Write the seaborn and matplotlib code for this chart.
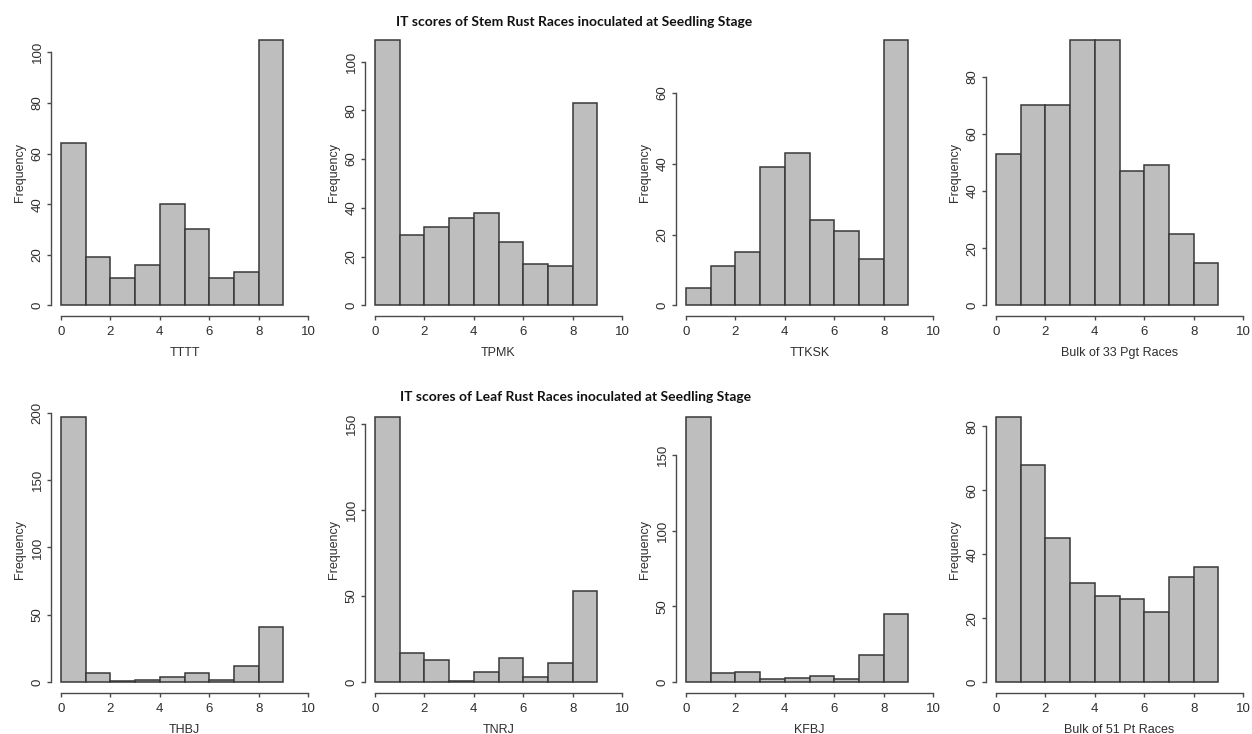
import numpy as np
import pandas as pd
import matplotlib
matplotlib.use("Agg")
import matplotlib.pyplot as plt
import seaborn as sns

# Infection-type (IT) score bins: 0-1, 1-2, ..., 8-9
bin_edges = np.arange(0, 10)

# Stem rust races (Pgt)
stem_races = ["TTTT", "TPMK", "TTKSK", "Bulk of 33 Pgt Races"]
ttt_counts = [64, 19, 11, 16, 40, 30, 11, 13, 105]
tpmk_counts = [109, 29, 32, 36, 38, 26, 17, 16, 83]
ttksk_counts = [5, 11, 15, 39, 43, 24, 21, 13, 75]
bulk_pgt_counts = [53, 70, 70, 93, 93, 47, 49, 25, 15]

# Leaf rust races (Pt)
leaf_races = ["THBJ", "TNRJ", "KFBJ", "Bulk of 51 Pt Races"]
thbj_counts = [197, 7, 1, 2, 4, 7, 2, 12, 41]
tnrj_counts = [154, 17, 13, 1, 6, 14, 3, 11, 53]
kfbj_counts = [175, 6, 7, 2, 3, 4, 2, 18, 45]
bulk_pt_counts = [83, 68, 45, 31, 27, 26, 22, 33, 36]

stem_counts = [ttt_counts, tpmk_counts, ttksk_counts, bulk_pgt_counts]
leaf_counts = [thbj_counts, tnrj_counts, kfbj_counts, bulk_pt_counts]

stem_yticks = [np.arange(0, 101, 20), np.arange(0, 101, 20),
               np.arange(0, 61, 20), np.arange(0, 81, 20)]
leaf_yticks = [np.arange(0, 201, 50), np.arange(0, 151, 50),
               np.arange(0, 151, 50), np.arange(0, 81, 20)]

stem_title = "IT scores of Stem Rust Races inoculated at Seedling Stage"
leaf_title = "IT scores of Leaf Rust Races inoculated at Seedling Stage"

sns.set_style("white")
plt.rcParams["font.family"] = ["Liberation Sans", "DejaVu Sans"]

W, H = 1252, 734
fig = plt.figure(figsize=(W / 100, H / 100), dpi=100)
fig.patch.set_facecolor("white")

axis_col = "#4a4a4a"
text_col = "#2e2e2e"
panel_lefts = [51, 365, 676, 986]
panel_w, panel_h = 267, 287
row_bottoms = [316, 693]


def draw_panel(left_px, bottom_px, race, counts, yticks):
    ax = fig.add_axes([left_px / W, (H - bottom_px) / H, panel_w / W, panel_h / H])
    df = pd.DataFrame({
        "score": (bin_edges[:-1] + bin_edges[1:]) / 2,
        "count": counts,
    })
    sns.histplot(data=df, x="score", weights="count",
                 binwidth=1, binrange=(bin_edges[0], bin_edges[-1]),
                 color="#BEBEBE", edgecolor="#383838", linewidth=1.1,
                 alpha=1.0, ax=ax)
    ymax = max(counts)
    ax.set_xlim(-0.4, 10.4)
    ax.set_ylim(-0.04 * ymax, 1.04 * ymax)
    ax.set_xticks(np.arange(0, 11, 2))
    ax.set_yticks(yticks)
    ax.set_yticklabels([str(v) for v in yticks], rotation=90, va="center")
    for s in ["top", "right"]:
        ax.spines[s].set_visible(False)
    ax.spines["left"].set_bounds(0, yticks[-1])
    ax.spines["bottom"].set_bounds(0, 10)
    for s in ["left", "bottom"]:
        ax.spines[s].set_color(axis_col)
        ax.spines[s].set_linewidth(1.0)
    ax.tick_params(axis="both", which="major", bottom=True, left=True,
                   direction="out", length=3.2, width=1.0,
                   color=axis_col, labelcolor=text_col, labelsize=9.5)
    ax.tick_params(axis="x", pad=4.0)
    ax.tick_params(axis="y", pad=2.0)
    ax.set_xlabel(race, fontsize=9, color=text_col, labelpad=6.5)
    ax.set_ylabel("Frequency", fontsize=9, color=text_col, labelpad=4)
    ax.set_facecolor("none")
    return ax


for i in range(4):
    draw_panel(panel_lefts[i], row_bottoms[0], stem_races[i], stem_counts[i], stem_yticks[i])
    draw_panel(panel_lefts[i], row_bottoms[1], leaf_races[i], leaf_counts[i], leaf_yticks[i])

fig.text(574 / W, 1 - 22 / H, stem_title, ha="center", va="center",
         fontsize=10, fontweight="bold", family=["Lato", "DejaVu Sans"], color="#111111")
fig.text(576 / W, 1 - 397 / H, leaf_title, ha="center", va="center",
         fontsize=10, fontweight="bold", family=["Lato", "DejaVu Sans"], color="#111111")

fig.savefig("out.png", dpi=100, facecolor="white")
